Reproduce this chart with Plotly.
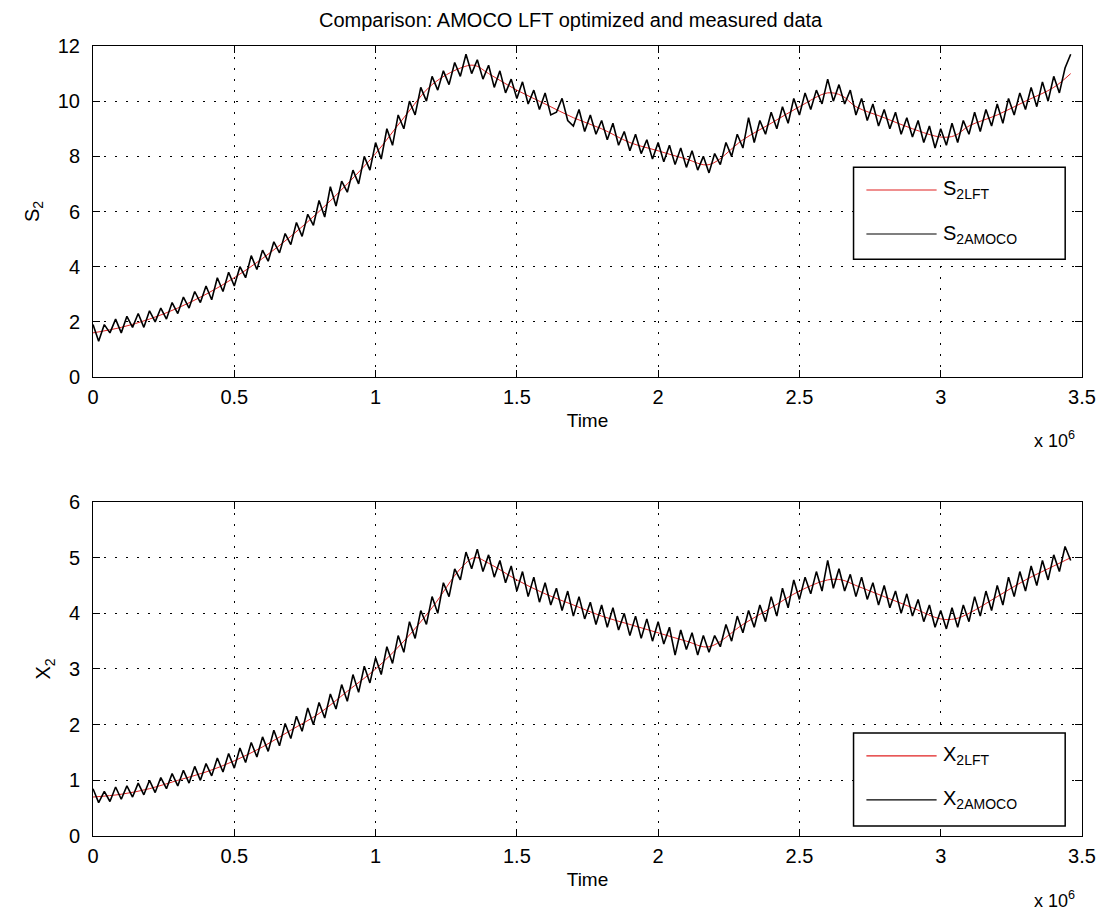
import plotly.graph_objects as go

# ---------------- data (time in units of 1e6) ----------------
TIME = [
    0.00, 0.02, 0.04, 0.06, 0.08, 0.10, 0.12, 0.14, 0.16, 0.18,
    0.20, 0.22, 0.24, 0.26, 0.28, 0.30, 0.32, 0.34, 0.36, 0.38,
    0.40, 0.42, 0.44, 0.46, 0.48, 0.50, 0.52, 0.54, 0.56, 0.58,
    0.60, 0.62, 0.64, 0.66, 0.68, 0.70, 0.72, 0.74, 0.76, 0.78,
    0.80, 0.82, 0.84, 0.86, 0.88, 0.90, 0.92, 0.94, 0.96, 0.98,
    1.00, 1.02, 1.04, 1.06, 1.08, 1.10, 1.12, 1.14, 1.16, 1.18,
    1.20, 1.22, 1.24, 1.26, 1.28, 1.30, 1.32, 1.34, 1.36, 1.38,
    1.40, 1.42, 1.44, 1.46, 1.48, 1.50, 1.52, 1.54, 1.56, 1.58,
    1.60, 1.62, 1.64, 1.66, 1.68, 1.70, 1.72, 1.74, 1.76, 1.78,
    1.80, 1.82, 1.84, 1.86, 1.88, 1.90, 1.92, 1.94, 1.96, 1.98,
    2.00, 2.02, 2.04, 2.06, 2.08, 2.10, 2.12, 2.14, 2.16, 2.18,
    2.20, 2.22, 2.24, 2.26, 2.28, 2.30, 2.32, 2.34, 2.36, 2.38,
    2.40, 2.42, 2.44, 2.46, 2.48, 2.50, 2.52, 2.54, 2.56, 2.58,
    2.60, 2.62, 2.64, 2.66, 2.68, 2.70, 2.72, 2.74, 2.76, 2.78,
    2.80, 2.82, 2.84, 2.86, 2.88, 2.90, 2.92, 2.94, 2.96, 2.98,
    3.00, 3.02, 3.04, 3.06, 3.08, 3.10, 3.12, 3.14, 3.16, 3.18,
    3.20, 3.22, 3.24, 3.26, 3.28, 3.30, 3.32, 3.34, 3.36, 3.38,
    3.40, 3.42, 3.44, 3.46,
]

S2_AMOCO = [
    1.9, 1.3, 1.9, 1.6, 2.1, 1.6, 2.2, 1.8, 2.3, 1.8,
    2.4, 2.0, 2.5, 2.1, 2.7, 2.3, 2.9, 2.5, 3.1, 2.7,
    3.3, 2.8, 3.6, 3.1, 3.8, 3.3, 4.0, 3.6, 4.4, 3.9,
    4.6, 4.2, 4.9, 4.5, 5.2, 4.8, 5.6, 5.1, 5.9, 5.5,
    6.4, 5.8, 6.9, 6.2, 7.1, 6.7, 7.5, 7.0, 8.0, 7.5,
    8.5, 7.9, 9.0, 8.4, 9.5, 9.0, 10.0, 9.5, 10.5, 10.0,
    10.9, 10.4, 11.1, 10.6, 11.4, 10.9, 11.7, 11.0, 11.5, 10.8,
    11.3, 10.5, 11.1, 10.3, 10.8, 10.1, 10.7, 9.9, 10.4, 9.7,
    10.3, 9.5, 9.6, 10.1, 9.3, 9.1, 9.7, 8.9, 9.5, 8.8,
    9.3, 8.6, 9.2, 8.4, 8.9, 8.2, 8.8, 8.1, 8.6, 7.9,
    8.5, 7.8, 8.4, 7.7, 8.3, 7.6, 8.2, 7.5, 8.0, 7.4,
    8.1, 7.7, 8.5, 8.0, 8.8, 8.3, 9.4, 8.5, 9.3, 8.8,
    9.6, 9.0, 9.8, 9.2, 10.1, 9.5, 10.3, 9.7, 10.4, 9.9,
    10.8, 10.0, 10.6, 9.9, 10.4, 9.5, 10.1, 9.3, 9.9, 9.1,
    9.7, 9.0, 9.6, 8.8, 9.4, 8.7, 9.3, 8.5, 9.1, 8.3,
    9.0, 8.4, 9.2, 8.5, 9.3, 8.8, 9.6, 8.9, 9.7, 9.1,
    9.9, 9.2, 10.1, 9.5, 10.3, 9.7, 10.5, 9.8, 10.7, 10.0,
    10.9, 10.3, 11.2, 11.7,
]

X2_AMOCO = [
    0.85, 0.60, 0.80, 0.62, 0.88, 0.66, 0.90, 0.70, 0.95, 0.74,
    1.00, 0.78, 1.05, 0.85, 1.12, 0.90, 1.18, 0.95, 1.25, 1.00,
    1.30, 1.08, 1.40, 1.15, 1.48, 1.22, 1.58, 1.32, 1.68, 1.42,
    1.78, 1.52, 1.90, 1.62, 2.02, 1.75, 2.15, 1.88, 2.30, 2.00,
    2.40, 2.12, 2.55, 2.28, 2.72, 2.42, 2.90, 2.58, 3.05, 2.75,
    3.20, 2.90, 3.40, 3.10, 3.60, 3.30, 3.85, 3.55, 4.05, 3.80,
    4.30, 4.00, 4.55, 4.30, 4.80, 4.60, 5.10, 4.80, 5.15, 4.75,
    5.05, 4.65, 4.95, 4.55, 4.85, 4.40, 4.75, 4.30, 4.65, 4.20,
    4.55, 4.15, 4.45, 4.05, 4.40, 3.95, 4.30, 3.90, 4.20, 3.80,
    4.15, 3.75, 4.10, 3.70, 4.00, 3.60, 3.95, 3.55, 3.90, 3.50,
    3.85, 3.45, 3.75, 3.25, 3.70, 3.35, 3.65, 3.25, 3.60, 3.30,
    3.60, 3.40, 3.80, 3.50, 3.95, 3.65, 4.05, 3.75, 4.15, 3.85,
    4.30, 3.95, 4.45, 4.10, 4.60, 4.25, 4.65, 4.35, 4.75, 4.40,
    4.95, 4.45, 4.80, 4.40, 4.70, 4.30, 4.65, 4.25, 4.55, 4.15,
    4.50, 4.10, 4.40, 4.00, 4.35, 3.95, 4.25, 3.85, 4.15, 3.75,
    4.05, 3.72, 4.10, 3.75, 4.15, 3.85, 4.30, 3.95, 4.40, 4.05,
    4.50, 4.15, 4.65, 4.30, 4.75, 4.40, 4.85, 4.50, 4.95, 4.60,
    5.05, 4.75, 5.20, 4.95,
]

LFT_TIME = [0.0, 0.1, 0.2, 0.3, 0.4, 0.5, 0.6, 0.7, 0.8, 0.9, 1.0, 1.1, 1.2,
            1.3, 1.35, 1.4, 1.5, 1.6, 1.7, 1.8, 1.9, 2.0, 2.1, 2.18, 2.3,
            2.4, 2.5, 2.6, 2.65, 2.7, 2.8, 2.9, 3.0, 3.05, 3.1, 3.2, 3.3,
            3.4, 3.46]
S2_LFT = [1.6, 1.8, 2.1, 2.5, 3.0, 3.6, 4.3, 5.1, 6.0, 7.0, 8.1, 9.4, 10.6,
          11.2, 11.3, 11.0, 10.4, 9.9, 9.4, 9.0, 8.5, 8.2, 7.9, 7.7, 8.6,
          9.2, 9.8, 10.3, 10.2, 9.8, 9.4, 9.0, 8.7, 8.75, 9.1, 9.5, 10.0,
          10.5, 11.0]
X2_LFT = [0.7, 0.75, 0.85, 1.0, 1.15, 1.35, 1.6, 1.9, 2.2, 2.6, 3.0, 3.5, 4.1,
          4.8, 5.0, 4.9, 4.6, 4.35, 4.15, 3.95, 3.8, 3.65, 3.5, 3.4, 3.8,
          4.1, 4.4, 4.6, 4.6, 4.5, 4.3, 4.1, 3.9, 3.9, 4.0, 4.3, 4.6,
          4.85, 5.0]

X_TICKS = [0, 0.5, 1, 1.5, 2, 2.5, 3, 3.5]
X_TICKTEXT = ["0", "0.5", "1", "1.5", "2", "2.5", "3", "3.5"]
S2_TICKS = [0, 2, 4, 6, 8, 10, 12]
X2_TICKS = [0, 1, 2, 3, 4, 5, 6]

TITLE = "Comparison: AMOCO LFT optimized and measured data"

# ---------------- figure ----------------
FONT = "Liberation Sans Narrow, Liberation Sans, Arial, sans-serif"
RED = "#e02020"

fig = go.Figure()
fig.add_trace(go.Scatter(x=LFT_TIME, y=S2_LFT, mode="lines", line=dict(color=RED, width=1, shape="spline"),
                         name="S2LFT", xaxis="x", yaxis="y", showlegend=False))
fig.add_trace(go.Scatter(x=TIME, y=S2_AMOCO, mode="lines", line=dict(color="black", width=1.6),
                         name="S2AMOCO", xaxis="x", yaxis="y", showlegend=False))
fig.add_trace(go.Scatter(x=LFT_TIME, y=X2_LFT, mode="lines", line=dict(color=RED, width=1, shape="spline"),
                         name="X2LFT", xaxis="x2", yaxis="y2", showlegend=False))
fig.add_trace(go.Scatter(x=TIME, y=X2_AMOCO, mode="lines", line=dict(color="black", width=1.6),
                         name="X2AMOCO", xaxis="x2", yaxis="y2", showlegend=False))

tickfont = dict(family=FONT, size=20, color="black")


def xaxis_style(anchor):
    return dict(
        anchor=anchor, domain=[0, 1], range=[0, 3.5],
        tickmode="array", tickvals=X_TICKS, ticktext=X_TICKTEXT,
        ticks="inside", ticklen=7, tickcolor="black", tickwidth=1,
        showline=True, linecolor="black", linewidth=1, mirror="ticks",
        showgrid=True, gridcolor="black", gridwidth=1, griddash="2px,9px",
        zeroline=False, tickfont=tickfont, ticklabelstandoff=2,
        title=dict(text="Time", font=dict(family=FONT, size=19, color="black"), standoff=6),
    )


def yaxis_style(domain, rng, ticks, title, anchor):
    return dict(
        anchor=anchor, domain=domain, range=rng,
        tickmode="array", tickvals=ticks, ticktext=[str(t) for t in ticks],
        ticks="inside", ticklen=7, tickcolor="black", tickwidth=1,
        showline=True, linecolor="black", linewidth=1, mirror="ticks",
        showgrid=True, gridcolor="black", gridwidth=1, griddash="2px,9px",
        zeroline=False, tickfont=tickfont, ticklabelstandoff=8,
        title=dict(text=title, font=dict(family=FONT, size=20, color="black"), standoff=12),
    )


fig.update_layout(
    width=1108, height=911,
    margin=dict(l=93, r=19, t=46, b=75),
    paper_bgcolor="white", plot_bgcolor="white",
    font=dict(family=FONT, color="black"),
    title=dict(text=TITLE, x=0.515, xref="container", xanchor="center",
               y=1 - 20 / 911, yref="container", yanchor="middle",
               font=dict(family=FONT, size=20, color="black")),
    xaxis=xaxis_style("y"),
    yaxis=yaxis_style([0.581, 1.0], [0, 12], S2_TICKS, "S<sub>2</sub>", "x"),
    xaxis2=xaxis_style("y2"),
    yaxis2=yaxis_style([0.0, 0.4228], [0, 6], X2_TICKS, "X<sub>2</sub>", "x2"),
    showlegend=False,
)

# x 10^6 multipliers
for xr, yr, yv in [("x domain", "y domain", -0.19), ("x2 domain", "y2 domain", -0.19)]:
    fig.add_annotation(text="x 10<sup>6</sup>", xref=xr, yref=yr, x=0.995, y=yv,
                       xanchor="right", yanchor="middle", showarrow=False,
                       font=dict(family=FONT, size=18, color="black"))

# manual MATLAB-style legends
legends = [
    ("x domain", "y domain", 0.634, 0.356, 0.565, 0.432, "S"),
    ("x2 domain", "y2 domain", 0.308, 0.030, 0.240, 0.108, "X"),
]
for xr, yr, ytop, ybot, yred, yblk, letter in legends:
    fig.add_shape(type="rect", xref=xr, yref=yr, x0=0.769, x1=0.983, y0=ybot, y1=ytop,
                  line=dict(color="black", width=1.5), fillcolor="white", layer="above")
    fig.add_shape(type="line", xref=xr, yref=yr, x0=0.782, x1=0.853, y0=yred, y1=yred,
                  line=dict(color=RED, width=1.2), layer="above")
    fig.add_shape(type="line", xref=xr, yref=yr, x0=0.782, x1=0.853, y0=yblk, y1=yblk,
                  line=dict(color="black", width=1.2), layer="above")
    fig.add_annotation(text=letter + "<sub>2LFT</sub>", xref=xr, yref=yr, x=0.857, y=yred,
                       xanchor="left", yanchor="middle", showarrow=False,
                       font=dict(family=FONT, size=20, color="black"))
    fig.add_annotation(text=letter + "<sub>2AMOCO</sub>", xref=xr, yref=yr, x=0.857, y=yblk,
                       xanchor="left", yanchor="middle", showarrow=False,
                       font=dict(family=FONT, size=20, color="black"))

fig.write_html("out.html")
